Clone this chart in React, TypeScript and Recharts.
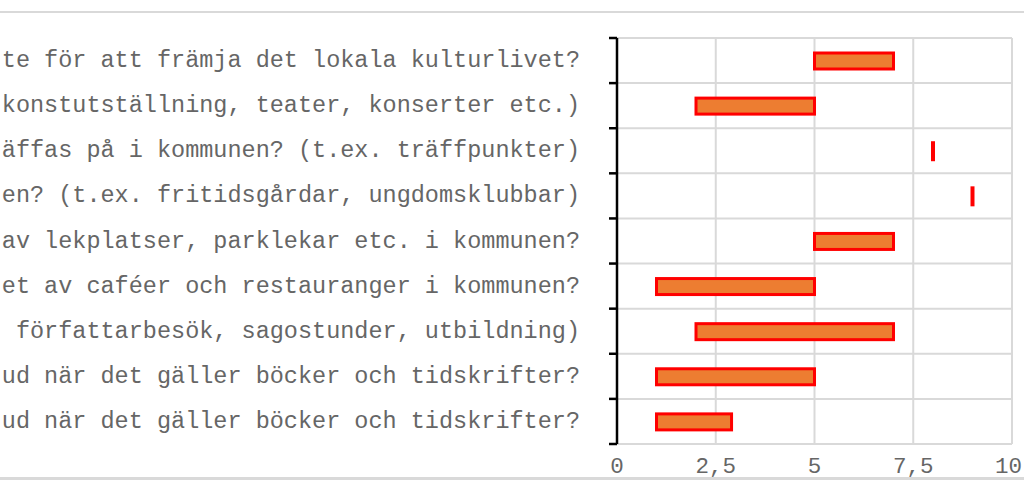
import React from 'react';
import { BarChart, Bar, XAxis, YAxis, CartesianGrid } from 'recharts';

// Frågetexter (vänsterdelen är beskuren i originalet)
const questions = [
  'te för att främja det lokala kulturlivet?',
  'konstutställning, teater, konserter etc.)',
  'äffas på i kommunen? (t.ex. träffpunkter)',
  'en? (t.ex. fritidsgårdar, ungdomsklubbar)',
  'av lekplatser, parklekar etc. i kommunen?',
  'et av caféer och restauranger i kommunen?',
  ' författarbesök, sagostunder, utbildning)',
  'ud när det gäller böcker och tidskrifter?',
  'ud när det gäller böcker och tidskrifter?',
];

// Start- och slutvärden för varje intervall
const rangeStart = [5, 2, 8, 9, 5, 1, 2, 1, 1];
const rangeEnd = [7, 5, 8, 9, 7, 5, 7, 5, 2.9];

const xTicks = [0, 2.5, 5, 7.5, 10];

const data = questions.map((name, i) => ({
  name,
  range: [rangeStart[i], rangeEnd[i]],
}));

const FONT = "'Courier New', 'Liberation Mono', monospace";
const TEXT_COLOR = '#666666';
const GRID_COLOR = '#d9d9d9';
const TICK_MARGIN = 37;

// Etikett + tickstreck mellan kategorierna (som i Excel)
const CategoryTick = (props: any) => {
  const { x, y, payload, index } = props;
  const axisX = x + TICK_MARGIN;
  const half = payload?.offset || 22.5;
  return (
    <g>
      <text
        x={x}
        y={y}
        dy={6.5}
        textAnchor="end"
        fill={TEXT_COLOR}
        fontSize={23.5}
        fontFamily={FONT}
        style={{ whiteSpace: 'pre' }}
      >
        {payload.value}
      </text>
      <line x1={axisX - 8} x2={axisX} y1={y - half} y2={y - half} stroke="#000" strokeWidth={2.5} />
      {index === questions.length - 1 && (
        <line x1={axisX - 8} x2={axisX} y1={y + half} y2={y + half} stroke="#000" strokeWidth={2.5} />
      )}
    </g>
  );
};

// Värdeaxelns etiketter med decimalkomma; sista hålls inom bilden
const ValueTick = (props: any) => {
  const { x, y, payload, index } = props;
  const last = index === xTicks.length - 1;
  return (
    <text
      x={last ? x + 10 : x}
      y={y}
      dy={16}
      textAnchor={last ? 'end' : 'middle'}
      fill={TEXT_COLOR}
      fontSize={22.5}
      fontFamily={FONT}
    >
      {String(payload.value).replace('.', ',')}
    </text>
  );
};

// Intervallstapel; nollbredd ritas som ett rött streck
const RangeShape = (props: any) => {
  const { x, y, width, height } = props;
  if (Math.abs(width) < 1) {
    return <line x1={x} x2={x} y1={y} y2={y + height} stroke="#FF0000" strokeWidth={4} strokeLinecap="square" />;
  }
  return <rect x={x} y={y} width={width} height={height} fill="#ED7D31" stroke="#FF0000" strokeWidth={3} />;
};

export default function App() {
  return (
    <div style={{ position: 'absolute', left: 0, top: 0, width: 1024, height: 480, background: '#fff', overflow: 'hidden' }}>
      <div style={{ position: 'absolute', left: 0, top: 11, width: 1024, height: 2, background: GRID_COLOR }} />
      <div style={{ position: 'absolute', left: 0, top: 477, width: 1024, height: 3, background: GRID_COLOR }} />
      <div style={{ position: 'absolute', left: 0, top: 0 }}>
        <BarChart
          width={1024}
          height={480}
          data={data}
          layout="vertical"
          margin={{ top: 38, right: 12, bottom: 0, left: 0 }}
        >
          <CartesianGrid
            stroke={GRID_COLOR}
            strokeWidth={2}
            horizontalCoordinatesGenerator={({ offset }: any) =>
              Array.from({ length: questions.length + 1 }, (_, i) => offset.top + (i * offset.height) / questions.length)
            }
          />
          <XAxis
            type="number"
            domain={[0, 10]}
            ticks={xTicks}
            axisLine={false}
            tickLine={false}
            tickSize={0}
            tickMargin={13}
            height={36}
            interval={0}
            tick={<ValueTick />}
          />
          <YAxis
            type="category"
            dataKey="name"
            width={617}
            interval={0}
            tickLine={false}
            tickSize={0}
            tickMargin={TICK_MARGIN}
            axisLine={{ stroke: '#000', strokeWidth: 2.5 }}
            tick={<CategoryTick />}
          />
          <Bar dataKey="range" barSize={16} shape={<RangeShape />} isAnimationActive={false} />
        </BarChart>
      </div>
    </div>
  );
}
